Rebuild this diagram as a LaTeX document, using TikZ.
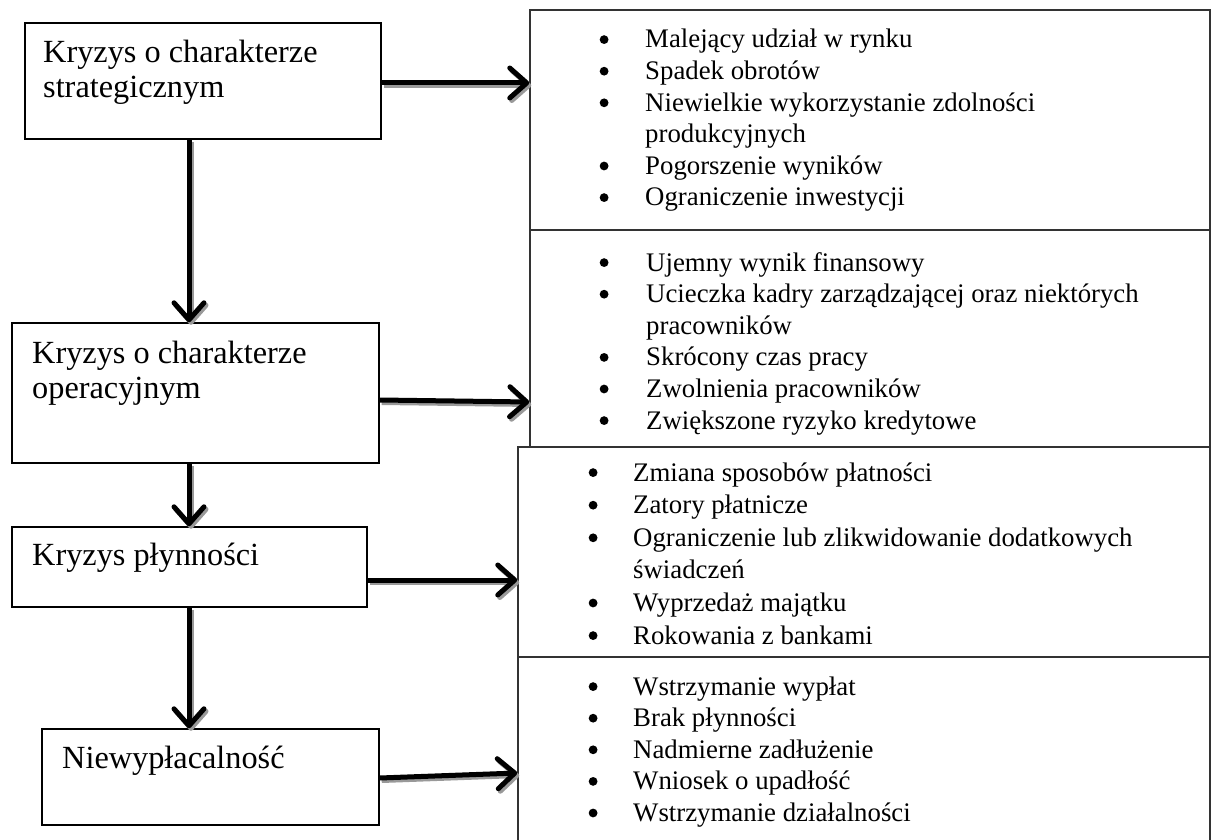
\documentclass[tikz,border=0pt]{standalone}
\usepackage{fontspec}
\setmainfont{Liberation Serif}
\usetikzlibrary{arrows.meta}

% font sizes for the stage boxes and for the symptom lists
\newcommand{\stagefont}{\fontsize{32.3}{35}\selectfont}
\newcommand{\listfont}{\fontsize{26.8}{31.6}\selectfont}
\newcommand{\listfontwide}{\fontsize{26.8}{32.6}\selectfont}
% round list bullet, drawn as a small filled disc
\newcommand{\bul}{\tikz[baseline=0pt,x=1pt,y=1pt]\fill (4.4,8.4) circle (4.4pt);}

\begin{document}
\begin{tikzpicture}[x=1pt,y=-1pt,
  stagebox/.style={draw=black,line width=1.4pt,rectangle,inner sep=0pt,fill=white},
  listbox/.style={draw=black!80,line width=1.5pt,rectangle,inner sep=0pt},
  stagetext/.style={anchor=base west,inner sep=0pt},
  listtext/.style={anchor=base west,inner sep=0pt},
  flow/.style={line width=5pt,black,
    -{Straight Barb[length=17pt,width=30pt,round]}},
  flowshadow/.style={line width=5pt,black!40,
    -{Straight Barb[length=17pt,width=30pt,round]},
    transform canvas={xshift=2pt,yshift=-2.5pt}}
]
\path[use as bounding box] (0,0) rectangle (1211,840);
\clip (0,0) rectangle (1211,840);

% right-hand column: symptoms of each stage
\node[listbox,minimum width=680pt,minimum height=220pt] (r1) at (870,120) {};
\node[listbox,minimum width=680pt,minimum height=217pt] (r2) at (870,338.5) {};
\node[listbox,minimum width=692pt,minimum height=210pt] (r3) at (864,552) {};
\node[listbox,minimum width=692pt,minimum height=240pt] (r4) at (864,777) {};

\node[listtext] (l1) at (599.5,48) {\listfont
  \begin{tabular}[t]{@{}p{45.5pt}@{}l@{}}
  \bul & Malejący udział w rynku\\
  \bul & Spadek obrotów\\
  \bul & Niewielkie wykorzystanie zdolności\\
       & produkcyjnych\\
  \bul & Pogorszenie wyników\\
  \bul & Ograniczenie inwestycji
  \end{tabular}};
\node[listtext] (l2) at (599.5,271) {\listfont
  \begin{tabular}[t]{@{}p{46.5pt}@{}l@{}}
  \bul & Ujemny wynik finansowy\\
  \bul & Ucieczka kadry zarządzającej oraz niektórych\\
       & pracowników\\
  \bul & Skrócony czas pracy\\
  \bul & Zwolnienia pracowników\\
  \bul & Zwiększone ryzyko kredytowe
  \end{tabular}};
\node[listtext] (l3) at (588.5,481) {\listfontwide
  \begin{tabular}[t]{@{}p{44.5pt}@{}l@{}}
  \bul & Zmiana sposobów płatności\\
  \bul & Zatory płatnicze\\
  \bul & Ograniczenie lub zlikwidowanie dodatkowych\\
       & świadczeń\\
  \bul & Wyprzedaż majątku\\
  \bul & Rokowania z bankami
  \end{tabular}};
\node[listtext] (l4) at (588.5,695) {\listfont
  \begin{tabular}[t]{@{}p{44.5pt}@{}l@{}}
  \bul & Wstrzymanie wypłat\\
  \bul & Brak płynności\\
  \bul & Nadmierne zadłużenie\\
  \bul & Wniosek o upadłość\\
  \bul & Wstrzymanie działalności
  \end{tabular}};

% left-hand column: stages of the crisis
\node[stagebox,minimum width=356pt,minimum height=116pt] (b1) at (203,81) {};
\node[stagebox,minimum width=367pt,minimum height=140pt] (b2) at (195.5,393) {};
\node[stagebox,minimum width=355pt,minimum height=80pt] (b3) at (189.5,567) {};
\node[stagebox,minimum width=337pt,minimum height=96pt] (b4) at (210.5,777) {};

\node[stagetext] (t1) at (43,63) {\stagefont
  \begin{tabular}[t]{@{}l@{}}Kryzys o charakterze\\strategicznym\end{tabular}};
\node[stagetext] (t2) at (32,363) {\stagefont
  \begin{tabular}[t]{@{}l@{}}Kryzys o charakterze\\operacyjnym\end{tabular}};
\node[stagetext] (t3) at (32,565) {\stagefont Kryzys płynności};
\node[stagetext] (t4) at (62,768) {\stagefont Niewypłacalność};

% vertical axis of the downward arrows
\coordinate (axis) at (189,0);

% connectors: a grey shadow under each black arrow
\foreach \s in {flowshadow,flow}{
  \draw[\s] (b1.south -| axis) -- (b2.north -| axis);
  \draw[\s] (b2.south -| axis) -- (b3.north -| axis);
  \draw[\s] (b3.south -| axis) -- (b4.north -| axis);
  \draw[\s] ([yshift=-2pt]b1.east) -- ([yshift=37pt]r1.west);
  \draw[\s] ([yshift=-7pt]b2.east) -- ([yshift=-63.5pt]r2.west);
  \draw[\s] ([yshift=-13pt]b3.east) -- ([yshift=-28pt]r3.west);
  \draw[\s] ([yshift=-1pt]b4.east) -- ([yshift=4pt]r4.west);
}
\end{tikzpicture}
\end{document}
